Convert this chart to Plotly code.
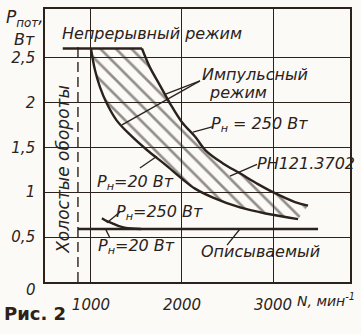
import plotly.graph_objects as go

# Loss power P (W) versus speed N (rpm)
# Boundary for load P_н = 20 W (lower edge of the pulse-mode band)
lower_n = [1000, 1044, 1099, 1173, 1282, 1429, 1615, 1813, 2000, 2143, 2341, 2637, 2934, 3275]
lower_p = [2.60, 2.36, 2.17, 1.99, 1.80, 1.64, 1.47, 1.31, 1.15, 1.04, 0.94, 0.83, 0.76, 0.70]
# Boundary for load P_н = 250 W (upper edge of the pulse-mode band)
upper_n = [1560, 1648, 1758, 1868, 2000, 2143, 2264, 2451, 2637, 2835, 3000, 3242, 3385]
upper_p = [2.60, 2.39, 2.19, 1.99, 1.78, 1.62, 1.46, 1.32, 1.21, 1.09, 1.00, 0.89, 0.85]
# Continuous-mode limit
cap_n = [690, 1560]
cap_p = [2.60, 2.60]
# Idle speed marker
idle_n = [857, 857]
idle_p = [0.0, 2.64]
# Described regulator: P_н = 20 W and P_н = 250 W
desc20_n = [857, 3495]
desc20_p = [0.59, 0.59]
desc250_n = [1120, 1180, 1230, 1300, 1370, 1450, 1550]
desc250_p = [0.71, 0.675, 0.655, 0.625, 0.605, 0.595, 0.59]

x_ticks = [1000, 2000, 3000]
x_tick_text = ["1000", "2000", "3000"]
y_ticks = [0.5, 1.0, 1.5, 2.0, 2.5]
y_tick_text = ["0,5", "1", "1,5", "2", "2,5"]

INK = "#2b221c"
BG = "#fbfaf6"
FONT = "DejaVu Sans"

W, H = 361, 334
L, R, T, B = 45, 11, 7, 52
PW, PH = W - L - R, H - T - B

fig = go.Figure()

# hatched pulse-mode band
fig.add_trace(go.Scatter(
    x=lower_n + upper_n[::-1], y=lower_p + upper_p[::-1],
    mode="lines", fill="toself", line=dict(width=0),
    fillcolor="rgba(0,0,0,0)",
    fillpattern=dict(shape="\\", fgcolor=INK, bgcolor="rgba(0,0,0,0)",
                     size=11, solidity=0.24),
    hoverinfo="skip", showlegend=False,
))

thick = dict(color=INK, width=2.4)
for xs, ys in [(lower_n, lower_p), (upper_n, upper_p), (cap_n, cap_p),
               (desc20_n, desc20_p), (desc250_n, desc250_p)]:
    fig.add_trace(go.Scatter(x=xs, y=ys, mode="lines", line=dict(thick, shape="spline"),
                             showlegend=False, hoverinfo="skip"))

fig.add_trace(go.Scatter(x=idle_n, y=idle_p, mode="lines",
                         line=dict(color=INK, width=1.4, dash="10px,5px"),
                         showlegend=False, hoverinfo="skip"))


def font(size, italic=True, bold=False):
    return dict(family=FONT, size=size, color=INK,
                style="italic" if italic else "normal",
                weight="bold" if bold else "normal")


def txt(text, x, y, size=15, xanchor="center", angle=0, italic=True, bold=False):
    return dict(text=text, x=x, y=y, xref="x", yref="y", xanchor=xanchor, yanchor="middle",
                showarrow=False, textangle=angle, font=font(size, italic, bold))


def margin_txt(text, px, py, size=15, xanchor="center", italic=True, bold=False):
    # place a text in the margins by pixel position
    return dict(text=text, x=(px - L) / PW, y=(H - B - py) / PH, xref="paper", yref="paper",
                xanchor=xanchor, yanchor="middle", showarrow=False, font=font(size, italic, bold))


ann = [
    margin_txt("0", 31, 290),
    margin_txt("<i>N</i>, мин<sup>-1</sup>", 295, 300, size=14, xanchor="left"),
    margin_txt("<i>P</i><sub>пот</sub>,", 4, 17, size=17, xanchor="left"),
    margin_txt("Вт", 12, 38, size=16, xanchor="left"),
    margin_txt("Рис. 2", 2, 314, size=18, xanchor="left", italic=False, bold=True),
    # labels inside the plot
    txt("Непрерывный режим", 1670, 2.77, size=16),
    txt("Импульсный", 2802, 2.31, size=16),
    txt("режим", 2615, 2.11, size=16),
    txt("<i>P</i><sub>н</sub> = 250 Вт", 2857, 1.75, size=16),
    txt("РН121.3702", 3363, 1.32, size=16),
    txt("<i>P</i><sub>н</sub>=20 Вт", 1484, 1.11, size=16),
    txt("<i>P</i><sub>н</sub>=250 Вт", 1758, 0.77, size=16),
    txt("<i>P</i><sub>н</sub>=20 Вт", 1505, 0.40, size=16),
    txt("Описываемый", 2868, 0.34, size=16),
    txt("Холостые обороты", 692, 1.26, size=17, angle=-90),
]

# leader lines from labels to curves
leaders = [
    (2198, 2.24, 1813, 2.09),
    (2198, 2.24, 1341, 1.75),
    (2341, 1.73, 2121, 1.67),
    (2824, 1.31, 2527, 1.18),
    (1538, 1.27, 1725, 1.40),
    (1319, 0.78, 1176, 0.66),
    (1209, 0.49, 1165, 0.58),
    (2495, 0.41, 2637, 0.59),
]
shapes = [dict(type="line", xref="x", yref="y", x0=a, y0=b, x1=c, y1=d,
               line=dict(color=INK, width=1.3)) for a, b, c, d in leaders]

axis_common = dict(showgrid=True, gridcolor=INK, gridwidth=1.1, zeroline=False,
                   showline=True, mirror=True, linecolor=INK, linewidth=1.6,
                   ticks="", showticklabels=True, tickfont=font(15))

fig.update_layout(
    width=W, height=H,
    margin=dict(l=L, r=R, t=T, b=B),
    paper_bgcolor=BG, plot_bgcolor=BG,
    xaxis=dict(axis_common, range=[495, 3846], tickmode="array",
               tickvals=x_ticks, ticktext=x_tick_text, ticklabelstandoff=8),
    yaxis=dict(axis_common, range=[0, 3.04], tickmode="array",
               tickvals=y_ticks, ticktext=y_tick_text, ticklabelstandoff=5),
    annotations=ann, shapes=shapes,
    showlegend=False,
)

fig.write_html("out.html")
